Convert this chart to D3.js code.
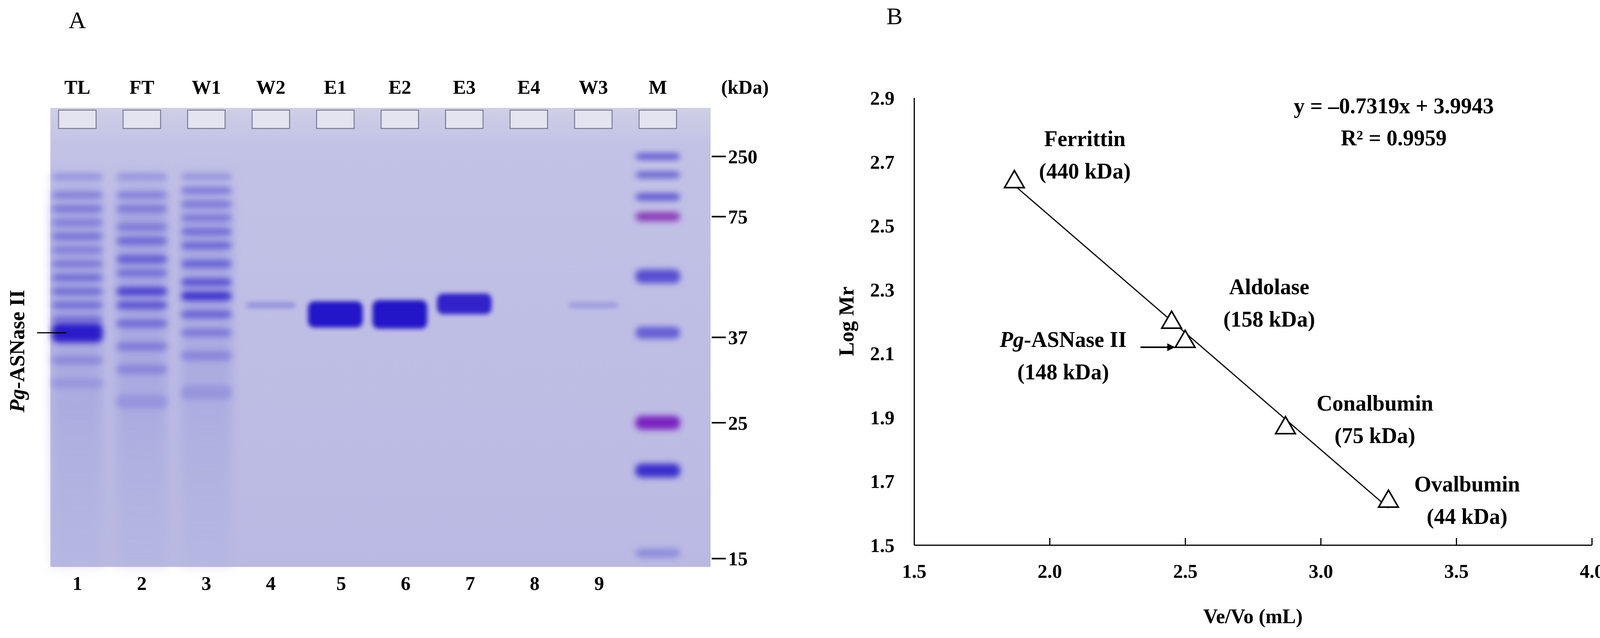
<!DOCTYPE html>
<html><head><meta charset="utf-8">
<script src="https://cdn.jsdelivr.net/npm/d3@7"></script>
<style>body{margin:0;background:#fff}text{font-family:"Liberation Serif","Times New Roman",serif}</style>
</head><body><svg id="c" width="4143" height="1633"></svg>
<script>
// ---------- Panel A data ----------
const laneLabels = ["TL","FT","W1","W2","E1","E2","E3","E4","W3","M"];
const laneNumbers = ["1","2","3","4","5","6","7","8","9",""];
const markerKDa = [250, 75, 37, 25, 15];
const markerMigration = [0.106, 0.237, 0.50, 0.686, 0.982];
// bands per lane: [migration fraction, thickness fraction, intensity 0..1]
const laneBands = [
  [[0.15,.012,.25],[0.19,.012,.4],[0.22,.012,.45],[0.25,.012,.4],[0.28,.012,.5],[0.31,.012,.4],[0.34,.012,.45],[0.37,.014,.5],[0.40,.014,.5],[0.43,.014,.5],[0.46,.014,.45],[0.49,.042,.95],[0.55,.016,.3],[0.60,.02,.2]],
  [[0.15,.012,.25],[0.19,.012,.4],[0.22,.012,.45],[0.26,.012,.45],[0.29,.014,.55],[0.33,.016,.6],[0.36,.014,.5],[0.40,.018,.75],[0.43,.016,.65],[0.47,.016,.5],[0.52,.016,.4],[0.57,.02,.3],[0.64,.03,.2]],
  [[0.15,.012,.25],[0.18,.012,.45],[0.21,.012,.45],[0.24,.012,.45],[0.27,.014,.5],[0.30,.014,.55],[0.34,.016,.55],[0.38,.016,.65],[0.41,.02,.8],[0.45,.016,.55],[0.49,.016,.4],[0.54,.02,.3],[0.62,.03,.2]],
  [[0.43,.014,.2]],
  [[0.45,.057,1]],
  [[0.45,.062,1]],
  [[0.427,.045,.92]],
  [],
  [[0.43,.014,.14]],
  [[0.106,.014,.6],[0.146,.014,.55],[0.194,.016,.6],[0.237,.02,.8],[0.367,.03,.65],[0.49,.026,.55],[0.686,.03,.95],[0.79,.03,.85],[0.97,.02,.25]]
];
const markerBandColors = [null,null,null,"#8a3ab8",null,null,"#7a22c0",null,null];
const smearLanes = [0.8, 0.85, 0.75];

// ---------- Panel B data ----------
const proteins = ["Ferrittin","Aldolase","Pg-ASNase II","Conalbumin","Ovalbumin"];
const proteinKDa = [440, 158, 148, 75, 44];
const veVo = [1.87, 2.45, 2.50, 2.87, 3.25];
const logMr = [2.64, 2.20, 2.14, 1.87, 1.64];
const slope = -0.7319, intercept = 3.9943, r2 = 0.9959;
const xTicks = [1.5,2.0,2.5,3.0,3.5,4.0];
const yTicks = [1.5,1.7,1.9,2.1,2.3,2.5,2.7,2.9];

const svg = d3.select("#c");
svg.append("rect").attr("width",4143).attr("height",1633).attr("fill","#fff");
const defs = svg.append("defs");
defs.append("filter").attr("id","blur").attr("x","-20%").attr("y","-60%").attr("width","140%").attr("height","220%")
  .append("feGaussianBlur").attr("stdDeviation",6);
defs.append("filter").attr("id","blur3").attr("x","-20%").attr("y","-80%").attr("width","140%").attr("height","260%")
  .append("feGaussianBlur").attr("stdDeviation",8);
defs.append("filter").attr("id","blur2").attr("x","-20%").attr("y","-20%").attr("width","140%").attr("height","140%")
  .append("feGaussianBlur").attr("stdDeviation",14);
const sg = defs.append("linearGradient").attr("id","smear").attr("x1",0).attr("x2",0).attr("y1",0).attr("y2",1);
sg.append("stop").attr("offset","0%").attr("stop-color","#9a9ae0").attr("stop-opacity",0);
sg.append("stop").attr("offset","12%").attr("stop-color","#9a9ae0").attr("stop-opacity",0.9);
sg.append("stop").attr("offset","60%").attr("stop-color","#a2a2de").attr("stop-opacity",0.8);
sg.append("stop").attr("offset","100%").attr("stop-color","#b0b0e0").attr("stop-opacity",0.4);
const bg = defs.append("linearGradient").attr("id","gelbg").attr("x1",0).attr("x2",0).attr("y1",0).attr("y2",1);
bg.append("stop").attr("offset","0%").attr("stop-color","#cfcfe6");
bg.append("stop").attr("offset","8%").attr("stop-color","#c2c2e6");
bg.append("stop").attr("offset","100%").attr("stop-color","#b9b9e3");

// ---------- Panel A ----------
const gel = {x0:129, x1:1819, y0:276, y1:1451};
const xl = d3.scalePoint().domain(d3.range(laneLabels.length)).range([198,1684]);
const ym = d3.scaleLinear().domain([0,1]).range([gel.y0, gel.y1]);
const laneW = 130;
const inten = d3.interpolateRgb("#b4b4e2","#2417c8");

svg.append("text").attr("x",198).attr("y",72).attr("font-size",62).attr("text-anchor","middle").text("A");
svg.append("rect").attr("x",gel.x0).attr("y",gel.y0).attr("width",gel.x1-gel.x0).attr("height",gel.y1-gel.y0).attr("fill","url(#gelbg)");
const gA = svg.append("g");
laneLabels.forEach((l,i)=>{
  gA.append("rect").attr("x",xl(i)-48).attr("y",ym(0.005)).attr("width",96).attr("height",ym(0.045)-ym(0.005))
    .attr("fill","#e4e4f0").attr("stroke","#7a7a98").attr("stroke-width",2.5);
});
smearLanes.forEach((s,i)=>{
  gA.append("rect").attr("x",xl(i)-laneW/2).attr("y",ym(0.12)).attr("width",laneW).attr("height",ym(1)-ym(0.12))
    .attr("fill","url(#smear)").attr("opacity",s).attr("filter","url(#blur2)");
});
laneBands.forEach((bands,i)=>{
  bands.forEach((b,j)=>{
    const w = i===9 ? 115 : laneW+(i>=4&&i<=6?10:0);
    const col = (i===9 && markerBandColors[j]) ? markerBandColors[j] : inten(b[2]);
    gA.append("rect").attr("x",xl(i)-w/2).attr("y",ym(b[0]-b[1]/2)).attr("width",w).attr("height",ym(b[1])-ym(0))
      .attr("rx",16).attr("fill",col).attr("filter",(i<3||i===9)?"url(#blur3)":"url(#blur)");
  });
});
laneLabels.forEach((l,i)=>{
  svg.append("text").attr("x",xl(i)).attr("y",240).attr("font-size",50).attr("font-weight","bold").attr("text-anchor","middle").text(l);
  svg.append("text").attr("x",xl(i)+ (i>=4?15:0)).attr("y",1510).attr("font-size",50).attr("font-weight","bold").attr("text-anchor","middle").text(laneNumbers[i]);
});
svg.append("text").attr("x",1907).attr("y",240).attr("font-size",50).attr("font-weight","bold").attr("text-anchor","middle").text("(kDa)");
markerKDa.forEach((k,i)=>{
  const y = ym(markerMigration[i]);
  svg.append("line").attr("x1",1822).attr("x2",1858).attr("y1",y).attr("y2",y).attr("stroke","#000").attr("stroke-width",4);
  svg.append("text").attr("x",1864).attr("y",y).attr("dy","0.35em").attr("font-size",50).attr("font-weight","bold").text(k);
});
svg.append("line").attr("x1",95).attr("x2",170).attr("y1",ym(0.49)).attr("y2",ym(0.49)).attr("stroke","#000").attr("stroke-width",3);
const pgA = svg.append("text").attr("transform",`translate(62,${ym(0.53)}) rotate(-90)`).attr("text-anchor","middle")
  .attr("font-size",54).attr("font-weight","bold");
pgA.append("tspan").attr("font-style","italic").text("Pg");
pgA.append("tspan").text("-ASNase II");

// ---------- Panel B ----------
const x = d3.scaleLinear().domain([1.5,4.0]).range([2340,4075]);
const y = d3.scaleLinear().domain([1.5,2.9]).range([1395,250]);
svg.append("text").attr("x",2290).attr("y",62).attr("font-size",62).attr("text-anchor","middle").text("B");
const gx = svg.append("g").attr("transform","translate(0,1395)")
  .call(d3.axisBottom(x).tickValues(xTicks).tickFormat(d3.format(".1f")).tickSizeInner(-18).tickSizeOuter(0).tickPadding(48));
const gy = svg.append("g").attr("transform","translate(2340,0)")
  .call(d3.axisLeft(y).tickValues(yTicks).tickFormat(d3.format(".1f")).tickSizeInner(0).tickSizeOuter(0).tickPadding(50));
[gx,gy].forEach(g=>{
  g.selectAll("path").attr("stroke","#000").attr("stroke-width",3);
  g.selectAll("line").attr("stroke","#000").attr("stroke-width",3);
  g.selectAll("text").attr("font-size",50).attr("font-weight","bold").attr("font-family","Liberation Serif");
});
gy.selectAll("text").attr("dy","0.35em");
gx.selectAll("text").attr("dy","0.71em");
svg.append("text").attr("x",x(2.75)).attr("y",1595).attr("text-anchor","middle").attr("font-size",52).attr("font-weight","bold").text("Ve/Vo (mL)");
svg.append("text").attr("transform",`translate(2185,${y(2.2)}) rotate(-90)`).attr("text-anchor","middle").attr("font-size",54).attr("font-weight","bold").text("Log Mr");

const xmin=d3.min(veVo), xmax=d3.max(veVo);
svg.append("line").attr("x1",x(xmin)).attr("y1",y(slope*xmin+intercept)).attr("x2",x(xmax)).attr("y2",y(slope*xmax+intercept))
  .attr("stroke","#000").attr("stroke-width",3);
const tri = d3.symbol().type(d3.symbolTriangle).size(1100);
veVo.forEach((v,i)=>{
  svg.append("path").attr("d",tri()).attr("transform",`translate(${x(v)},${y(logMr[i])+3})`)
    .attr("fill","#fff").attr("stroke","#000").attr("stroke-width",4);
});
const lab = [
  {dx:0.26, dy:0.108}, {dx:0.36, dy:0.085}, {dx:-0.45, dy:-0.02}, {dx:0.33, dy:0.051}, {dx:0.29, dy:0.027}
];
proteins.forEach((p,i)=>{
  const cx = x(veVo[i]+lab[i].dx), cy = y(logMr[i]+lab[i].dy);
  const t = svg.append("text").attr("x",cx).attr("y",cy).attr("text-anchor","middle").attr("font-size",56).attr("font-weight","bold");
  if(p.startsWith("Pg")){ t.append("tspan").attr("font-style","italic").text("Pg"); t.append("tspan").text("-ASNase II"); }
  else t.text(p);
  svg.append("text").attr("x",cx).attr("y",cy+83).attr("text-anchor","middle").attr("font-size",56).attr("font-weight","bold").text(`(${proteinKDa[i]} kDa)`);
});
defs.append("marker").attr("id","ah").attr("viewBox","0 0 10 10").attr("refX",9).attr("refY",5).attr("markerWidth",5).attr("markerHeight",5).attr("orient","auto")
  .append("path").attr("d","M0,0L10,5L0,10z").attr("fill","#000");
svg.append("line").attr("x1",x(2.335)).attr("x2",x(2.46)).attr("y1",y(2.119)).attr("y2",y(2.119)).attr("stroke","#000").attr("stroke-width",4).attr("marker-end","url(#ah)");
svg.append("text").attr("x",3568).attr("y",290).attr("text-anchor","middle").attr("font-size",56).attr("font-weight","bold").text(`y = –${Math.abs(slope)}x + ${intercept}`);
svg.append("text").attr("x",3568).attr("y",372).attr("text-anchor","middle").attr("font-size",56).attr("font-weight","bold").text(`R² = ${r2}`);
</script></body></html>
